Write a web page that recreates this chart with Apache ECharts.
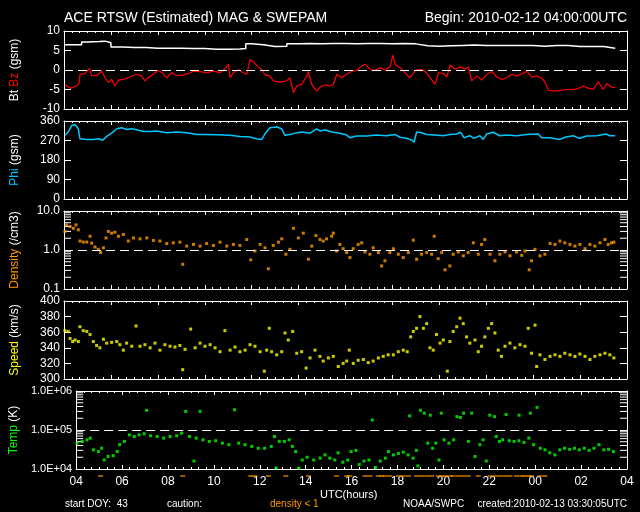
<!DOCTYPE html>
<html>
<head>
<meta charset="utf-8">
<script src="https://cdn.jsdelivr.net/npm/echarts@6/dist/echarts.min.js"></script>
<style>
html,body{margin:0;padding:0;background:#000;}
#chart{width:640px;height:512px;}
</style>
</head>
<body>
<div id="chart"></div>
<script>
// ---- Data (hours after 2010-02-12 04:00 UTC) ----
const hourTicks = ['04','06','08','10','12','14','16','18','20','22','00','02','04'];

const bt = [[0,6.5],[0.5,6.5],[0.75,7.2],[1.0,7.3],[1.5,7.4],[1.75,7.0],[2.0,5.9],[2.5,5.8],[3.0,5.8],[3.5,5.6],[4.0,5.6],[4.5,5.6],[5.0,5.5],[5.5,5.5],[6.0,5.3],[6.5,5.3],[7.0,5.4],[7.5,5.5],[7.75,6.7],[8.0,6.5],[8.5,6.0],[9.0,6.1],[9.5,6.7],[10.0,6.8],[10.5,6.7],[11,6.8],[11.5,6.8],[12,6.7],[12.5,6.8],[13,6.8],[13.5,6.7],[14,6.8],[14.5,6.7],[15,6.2],[15.5,6.1],[16,6.2],[16.5,6.3],[17,6.4],[17.5,6.3],[18,6.3],[18.5,6.3],[19,6.3],[19.5,6.3],[20,6.1],[20.5,6.3],[21,6.3],[21.5,6.0],[22,6.0],[22.5,6.0],[23,5.6],[23.5,5.6]];

const bz = [[0.04,-3.7],[0.26,-4.7],[0.54,-4.1],[0.65,-3.2],[0.68,-1.1],[0.90,-0.9],[1.08,0.4],[1.18,-1.5],[1.39,-1.4],[1.61,-0.3],[1.75,-2],[1.89,-3.2],[2.03,-2.4],[2.17,-4.1],[2.32,-2.6],[2.53,-2.4],[2.81,-1.8],[3.10,-1.1],[3.31,-1.5],[3.45,-2.8],[3.59,-2],[3.81,-1.1],[4.02,-0.1],[4.23,-0.9],[4.38,-2],[4.59,-0.7],[4.80,-1.4],[5.09,-1.3],[5.37,-0.7],[5.51,-0.3],[5.80,-0.4],[6.08,-0.7],[6.37,-0.3],[6.65,-0.7],[6.86,0.3],[7.01,1.5],[7.08,-2],[7.22,-0.7],[7.43,0.1],[7.64,-0.7],[7.79,-1.1],[7.93,2.6],[8.07,2.1],[8.28,0.8],[8.43,0.2],[8.57,-1.3],[8.78,-1.5],[8.92,-2.8],[9.21,-3.1],[9.49,-2.8],[9.63,-2],[9.78,-5.8],[9.92,-4.1],[10.13,-3.7],[10.35,-1.5],[10.42,-0.4],[10.56,-3.7],[10.77,-5.4],[10.91,-4.4],[11.13,-3.8],[11.34,-4.1],[11.48,-3.7],[11.63,-1.1],[11.84,-2],[12.05,-1.1],[12.27,-0.3],[12.48,-0.1],[12.69,1.0],[12.84,1.5],[13.05,0.2],[13.26,-0.1],[13.48,0.6],[13.69,0],[13.90,0.8],[14.02,3.8],[14.11,1.5],[14.33,0.6],[14.54,-0.7],[14.75,-2],[14.97,-0.1],[15.18,0.2],[15.39,-0.3],[15.61,-2],[15.82,-3.7],[15.96,-0.7],[16.18,-0.9],[16.32,-1.8],[16.46,1.3],[16.67,0.2],[16.89,0.8],[17.10,0.2],[17.24,0.8],[17.38,-2.8],[17.60,-1.5],[17.81,-2.6],[18.02,-1.1],[18.24,-0.4],[18.45,-1.8],[18.66,-2.4],[18.88,-2],[19.09,-1.1],[19.30,-1.5],[19.51,-1.1],[19.73,-0.3],[19.94,-1.8],[20.15,-1.5],[20.37,-2.1],[20.51,-3.2],[20.65,-5.2],[20.86,-5.4],[21.15,-5.2],[21.43,-5],[21.72,-5],[21.93,-4.7],[22.14,-4.1],[22.36,-4.7],[22.57,-4.9],[22.78,-3],[22.99,-5],[23.14,-3.5],[23.35,-4.4],[23.49,-4.5]];

const phi = [[0.04,294],[0.18,309],[0.33,339],[0.47,344],[0.61,324],[0.68,278],[0.97,275],[1.25,275],[1.46,278],[1.65,271],[1.82,289],[2.03,304],[2.25,324],[2.46,329],[2.67,321],[2.89,324],[3.10,320],[3.38,312],[3.67,312],[3.95,314],[4.38,306],[4.80,309],[5.23,306],[5.66,298],[6.08,298],[6.51,297],[7.08,294],[7.50,289],[7.93,286],[8.21,278],[8.43,275],[8.57,301],[8.78,329],[9.07,332],[9.28,324],[9.42,294],[9.63,298],[9.85,304],[10.13,309],[10.49,304],[10.77,324],[10.91,314],[11.13,318],[11.48,308],[11.76,303],[12.05,295],[12.19,283],[12.47,291],[12.90,291],[13.33,295],[13.75,292],[14.11,298],[14.32,285],[14.60,280],[14.82,272],[14.92,262],[15.03,308],[15.17,308],[15.46,298],[15.81,295],[16.17,292],[16.45,298],[16.74,300],[16.91,308],[17.05,283],[17.30,292],[17.47,280],[17.73,292],[17.87,275],[18.02,300],[18.30,308],[18.58,292],[18.87,295],[19.29,292],[19.72,298],[20.22,300],[20.36,283],[20.72,283],[21.14,275],[21.35,285],[21.71,292],[21.97,280],[22.28,291],[22.70,292],[23.10,300],[23.27,292],[23.50,292]];

const density = [[0.04,3.0],[0.11,4.4],[0.26,4.0],[0.40,3.6],[0.51,4.4],[0.61,3.3],[0.68,1.7],[0.82,1.6],[0.97,1.6],[1.11,2.25],[1.18,1.5],[1.32,1.19],[1.46,1.04],[1.56,0.86],[1.68,1.14],[1.79,2.04],[1.89,3.0],[2.03,2.7],[2.17,2.85],[2.32,2.25],[2.53,2.5],[2.74,1.7],[2.96,2.04],[3.24,1.93],[3.53,2.04],[3.81,1.75],[4.09,1.7],[4.38,1.47],[4.66,1.53],[4.94,1.59],[5.06,0.43],[5.23,1.26],[5.52,1.39],[5.80,1.26],[6.08,1.47],[6.37,1.31],[6.65,1.59],[6.94,1.26],[7.22,1.39],[7.50,1.31],[7.79,1.86],[7.96,0.56],[8.14,0.94],[8.36,1.39],[8.57,1.14],[8.71,0.33],[8.92,1.31],[9.14,1.59],[9.28,1.93],[9.46,0.78],[9.63,1.04],[9.78,3.6],[9.99,2.04],[10.20,2.7],[10.42,0.58],[10.56,1.26],[10.74,2.34],[10.91,1.86],[11.05,1.7],[11.19,1.93],[11.41,2.25],[11.48,2.7],[11.62,0.94],[11.76,1.39],[11.90,1.08],[12.05,0.86],[12.19,0.64],[12.33,1.08],[12.54,1.39],[12.69,1.53],[12.83,0.89],[13.04,0.78],[13.18,1.14],[13.40,0.86],[13.54,0.39],[13.68,0.53],[13.89,0.86],[14.04,1.08],[14.25,0.78],[14.46,0.64],[14.68,0.86],[14.89,1.79],[15.03,0.58],[15.24,0.78],[15.46,0.86],[15.67,0.78],[15.78,2.25],[15.95,0.60],[16.10,0.86],[16.24,0.31],[16.45,0.39],[16.59,0.78],[16.81,0.89],[17.02,0.71],[17.23,0.86],[17.45,1.53],[17.66,0.78],[17.80,1.39],[17.94,1.86],[18.16,0.78],[18.37,0.53],[18.58,0.78],[18.80,0.89],[19.01,0.71],[19.29,0.89],[19.51,0.73],[19.65,0.94],[19.83,0.31],[19.93,0.53],[20.08,1.04],[20.29,0.71],[20.50,0.78],[20.72,1.47],[20.93,1.39],[21.14,1.7],[21.35,1.53],[21.57,1.39],[21.78,1.26],[21.99,1.39],[22.21,1.08],[22.42,1.39],[22.63,1.26],[22.85,1.53],[23.06,1.86],[23.20,1.39],[23.34,1.53],[23.44,1.59]];

const speed = [[0.04,362],[0.18,361],[0.26,352],[0.37,348],[0.47,350],[0.61,348],[0.68,367],[0.82,362],[0.97,361],[1.11,357],[1.25,348],[1.39,343],[1.53,340],[1.68,351],[1.82,346],[2.03,347],[2.25,348],[2.38,344],[2.53,337],[2.67,346],[2.89,342],[3.07,368],[3.24,342],[3.45,344],[3.67,340],[3.88,346],[4.09,337],[4.30,344],[4.52,342],[4.73,341],[4.94,343],[5.06,312],[5.16,338],[5.40,364],[5.59,340],[5.80,346],[6.01,342],[6.23,344],[6.44,340],[6.65,335],[6.86,362],[7.08,337],[7.29,341],[7.50,335],[7.72,337],[7.93,344],[8.14,342],[8.36,335],[8.54,310],[8.64,337],[8.75,365],[8.85,335],[9.07,331],[9.28,335],[9.42,359],[9.56,350],[9.75,361],[9.92,333],[10.13,335],[10.32,314],[10.49,327],[10.70,337],[10.91,329],[11.05,323],[11.27,327],[11.48,329],[11.69,316],[11.90,320],[12.05,323],[12.16,337],[12.33,320],[12.54,324],[12.76,325],[12.97,321],[13.18,323],[13.40,327],[13.61,329],[13.82,331],[14.04,331],[14.25,335],[14.46,337],[14.63,335],[14.78,354],[14.89,361],[15.03,365],[15.17,380],[15.32,365],[15.46,371],[15.60,340],[15.74,337],[15.88,357],[16.03,346],[16.17,350],[16.34,310],[16.45,348],[16.59,361],[16.74,367],[16.88,378],[17.02,371],[17.16,354],[17.30,346],[17.52,350],[17.66,335],[17.80,342],[17.94,354],[18.09,365],[18.23,371],[18.37,359],[18.51,337],[18.65,329],[18.80,342],[19.01,346],[19.22,340],[19.44,344],[19.65,342],[19.79,365],[19.93,333],[20.08,369],[20.15,316],[20.29,331],[20.50,325],[20.72,329],[20.93,331],[21.14,329],[21.35,333],[21.57,331],[21.78,329],[21.99,332],[22.21,329],[22.42,325],[22.63,329],[22.85,331],[23.06,333],[23.27,331],[23.44,327]];

const temp = [[0.04,4.6e4],[0.26,5.1e4],[0.47,5.6e4],[0.61,6.2e4],[0.75,3.1e4],[0.97,2.8e4],[1.11,3.4e4],[1.22,1.7e4],[1.39,2.1e4],[1.61,2.2e4],[1.79,2.8e4],[1.89,4.2e4],[2.10,5.1e4],[2.32,7.5e4],[2.53,6.8e4],[2.74,7.5e4],[2.96,8.0e4],[3.07,3.2e5],[3.24,7.1e4],[3.53,6.8e4],[3.81,6.2e4],[4.09,6.8e4],[4.38,7.1e4],[4.59,8.3e4],[4.77,3.0e5],[4.94,6.8e4],[5.13,1.6e4],[5.23,6.2e4],[5.40,3.0e5],[5.52,5.6e4],[5.80,5.1e4],[6.08,5.3e4],[6.37,4.6e4],[6.65,4.2e4],[6.90,3.3e5],[7.08,4.6e4],[7.36,4.2e4],[7.65,3.8e4],[7.93,3.4e4],[8.21,3.4e4],[8.50,3.8e4],[8.64,6.8e4],[8.71,1.06e4],[8.85,5.1e4],[9.07,5.1e4],[9.28,5.6e4],[9.42,3.8e4],[9.56,2.8e4],[9.70,1.05e4],[9.85,1.7e4],[10.06,2.0e4],[10.35,1.7e4],[10.63,1.9e4],[10.84,2.3e4],[11.05,1.9e4],[11.27,1.7e4],[11.41,2.6e4],[11.62,1.5e4],[11.83,1.7e4],[11.98,2.8e4],[12.19,3.0e4],[12.33,1.3e4],[12.54,1.6e4],[12.76,1.7e4],[12.90,1.8e5],[13.04,1.1e4],[13.25,1.6e4],[13.47,1.9e4],[13.61,2.8e4],[13.82,2.3e4],[14.04,2.5e4],[14.25,2.7e4],[14.46,2.3e4],[14.53,2.3e5],[14.68,1.9e4],[14.82,3.0e4],[14.89,1.2e4],[15.00,3.2e5],[15.17,2.7e5],[15.32,4.6e4],[15.43,2.4e5],[15.53,3.4e4],[15.67,4.6e4],[15.81,1.7e4],[15.91,2.7e5],[16.03,5.6e4],[16.24,4.6e4],[16.45,5.6e4],[16.59,2.2e5],[16.74,2.1e5],[16.88,2.7e5],[17.09,5.1e4],[17.23,2.7e5],[17.38,2.1e4],[17.59,4.2e4],[17.73,5.6e4],[17.87,1.6e4],[18.02,2.4e5],[18.23,2.2e5],[18.30,6.8e4],[18.44,5.1e4],[18.58,5.6e4],[18.73,2.5e5],[18.87,5.3e4],[19.08,5.1e4],[19.29,5.3e4],[19.30,2.4e5],[19.51,4.8e4],[19.72,6.2e4],[19.79,2.7e5],[19.93,4.2e4],[20.08,3.8e5],[20.22,3.4e4],[20.43,3.1e4],[20.64,2.6e4],[20.86,2.3e4],[21.07,3.1e4],[21.28,3.4e4],[21.50,3.2e4],[21.71,3.4e4],[21.92,3.1e4],[22.14,3.4e4],[22.35,3.0e4],[22.56,3.4e4],[22.78,4.2e4],[22.99,3.1e4],[23.20,3.2e4],[23.41,2.8e4]];

const densityMinorTicks = [0.2,0.3,0.4,0.5,0.6,0.7,0.8,0.9,2,3,4,5,6,7,8,9];
const tempMinorTicks = [2e4,3e4,4e4,5e4,6e4,7e4,8e4,9e4,2e5,3e5,4e5,5e5,6e5,7e5,8e5,9e5];

// ---- Chart ----
const FONT = 'Liberation Sans';
const W = '#ffffff';
const tops = [31,121,211,301,391];
const H = 78;

const grids = tops.map(t => ({left:64, right:13, top:t, height:H}));
grids.push({left:64, right:13, top:473, height:6});

const xAxes = [];
tops.forEach((t,i) => {
  ['bottom','top'].forEach(pos => {
    xAxes.push({
      gridIndex:i, type:'value', min:0, max:24, interval:2, position:pos,
      axisLine:{show:true, onZero:false, lineStyle:{color:W, width:1}},
      axisTick:{show:true, inside:true, length:4, lineStyle:{color:W}},
      minorTick:{show:true, splitNumber:6, length:2, lineStyle:{color:W}},
      splitLine:{show:false},
      axisLabel:{show:(i===4 && pos==='bottom'), color:W, fontSize:12, fontFamily:FONT, margin:7,
        formatter: v => hourTicks[Math.round(v/2)]}
    });
  });
});
xAxes.push({gridIndex:5, type:'value', min:0, max:24, show:false});

function yPair(i, cfg, name) {
  const base = Object.assign({
    gridIndex:i,
    axisLine:{show:true, onZero:false, lineStyle:{color:W, width:1}},
    axisTick:{show:true, inside:true, length:7, lineStyle:{color:W}},
    splitLine:{show:false},
  }, cfg);
  const left = Object.assign({}, base, {
    position:'left',
    axisLabel:Object.assign({color:W, fontSize:12, fontFamily:FONT, margin:4, showMinLabel:true, showMaxLabel:true}, cfg.axisLabel||{}),
    name: name.text, nameLocation:'middle', nameGap: 43, nameRotate:90,
    nameTextStyle:{fontSize:12, fontFamily:FONT, color:W, rich:name.rich}
  });
  const right = Object.assign({}, base, {position:'right', axisLabel:{show:false}});
  return [left, right];
}
function rich(color){ return {fontSize:12, fontFamily:FONT, color:color}; }

const yAxes = [].concat(
  yPair(0, {type:'value', min:-10, max:10, interval:5},
    {text:'{w|Bt} {r|Bz} {w|(gsm)}', rich:{w:rich(W), r:rich('#ff0000')}}),
  yPair(1, {type:'value', min:0, max:360, interval:90},
    {text:'{c|Phi} {w|(gsm)}', rich:{w:rich(W), c:rich('#00c8ff')}}),
  yPair(2, {type:'log', logBase:10, min:0.1, max:10, axisLabel:{formatter: v => v.toFixed(1)}},
    {text:'{o|Density} {w|(/cm3)}', rich:{w:rich(W), o:rich('#ff9900')}}),
  yPair(3, {type:'value', min:300, max:400, interval:20},
    {text:'{y|Speed} {w|(km/s)}', rich:{w:rich(W), y:rich('#ffff00')}}),
  yPair(4, {type:'log', logBase:10, min:1e4, max:1e6, axisLabel:{fontSize:11, formatter: v => '1.0E+0' + Math.round(Math.log10(v))}},
    {text:'{g|Temp} {w|(K)}', rich:{w:rich(W), g:rich('#00ff00')}})
);
yAxes.push({gridIndex:5, type:'value', min:0, max:1, show:false});

function dashed(v){
  return {silent:true, symbol:'none', label:{show:false},
    lineStyle:{color:W, type:[9,5], width:1.2}, data:[{yAxis:v}]};
}
function minorTickSeries(i, values){
  return {
    type:'custom', xAxisIndex:i*2, yAxisIndex:i*2, silent:true, clip:false, z:1,
    data: values.map(v => [0, v]),
    renderItem:(params, api) => {
      const p = api.coord([0, api.value(1)]);
      const cs = params.coordSys;
      return {type:'group', children:[
        {type:'line', shape:{x1:cs.x, y1:p[1], x2:cs.x+7, y2:p[1]}, style:{stroke:W, lineWidth:1}},
        {type:'line', shape:{x1:cs.x+cs.width-7, y1:p[1], x2:cs.x+cs.width, y2:p[1]}, style:{stroke:W, lineWidth:1}}
      ]};
    }
  };
}

const txt = (text, pos, size, color) => Object.assign({text:text, padding:0,
  textStyle:{color:color||W, fontSize:size, fontWeight:'normal', fontFamily:FONT}}, pos);

const option = {
  backgroundColor:'#000',
  animation:false,
  title:[
    txt('ACE RTSW (Estimated) MAG & SWEPAM', {left:64, top:11}, 14),
    txt('Begin: 2010-02-12 04:00:00UTC', {right:13, top:11}, 14),
    txt('UTC(hours)', {left:320, top:489}, 11),
    txt('start DOY:  43', {left:65, top:499}, 10),
    txt('caution:', {left:167, top:499}, 10),
    txt('density < 1', {left:270, top:499}, 10, '#ff9900'),
    txt('NOAA/SWPC', {left:403, top:499}, 10),
    txt('created:2010-02-13 03:30:05UTC', {right:13, top:499}, 10)
  ],
  grid: grids,
  xAxis: xAxes,
  yAxis: yAxes,
  series:[
    {type:'line', name:'Bt', xAxisIndex:0, yAxisIndex:0, data:bt, step:'end', showSymbol:false,
      lineStyle:{color:W, width:1.5}, markLine:dashed(0)},
    {type:'line', name:'Bz', xAxisIndex:0, yAxisIndex:0, data:bz, showSymbol:false,
      lineStyle:{color:'#ff0000', width:1.2}},
    {type:'line', name:'Phi', xAxisIndex:2, yAxisIndex:2, data:phi, showSymbol:false,
      lineStyle:{color:'#00c8ff', width:1.5}},
    {type:'scatter', name:'Density', xAxisIndex:4, yAxisIndex:4, data:density, symbol:'rect', symbolSize:3,
      itemStyle:{color:'#ff9900'}, markLine:dashed(1)},
    minorTickSeries(2, densityMinorTicks),
    {type:'scatter', name:'Speed', xAxisIndex:6, yAxisIndex:6, data:speed, symbol:'rect', symbolSize:3,
      itemStyle:{color:'#ffff00'}},
    {type:'scatter', name:'Temp', xAxisIndex:8, yAxisIndex:8, data:temp, symbol:'rect', symbolSize:3,
      itemStyle:{color:'#00ff00'}, markLine:dashed(1e5)},
    minorTickSeries(4, tempMinorTicks),
    {type:'scatter', name:'LowDensity', xAxisIndex:10, yAxisIndex:10,
      data: density.filter(d => d[1] < 1).map(d => [d[0], 0.5]),
      symbol:'rect', symbolSize:[5,1.5], itemStyle:{color:'#ff9900'}}
  ]
};

const chart = echarts.init(document.getElementById('chart'), null, {renderer:'canvas'});
chart.setOption(option);
</script>
</body>
</html>
